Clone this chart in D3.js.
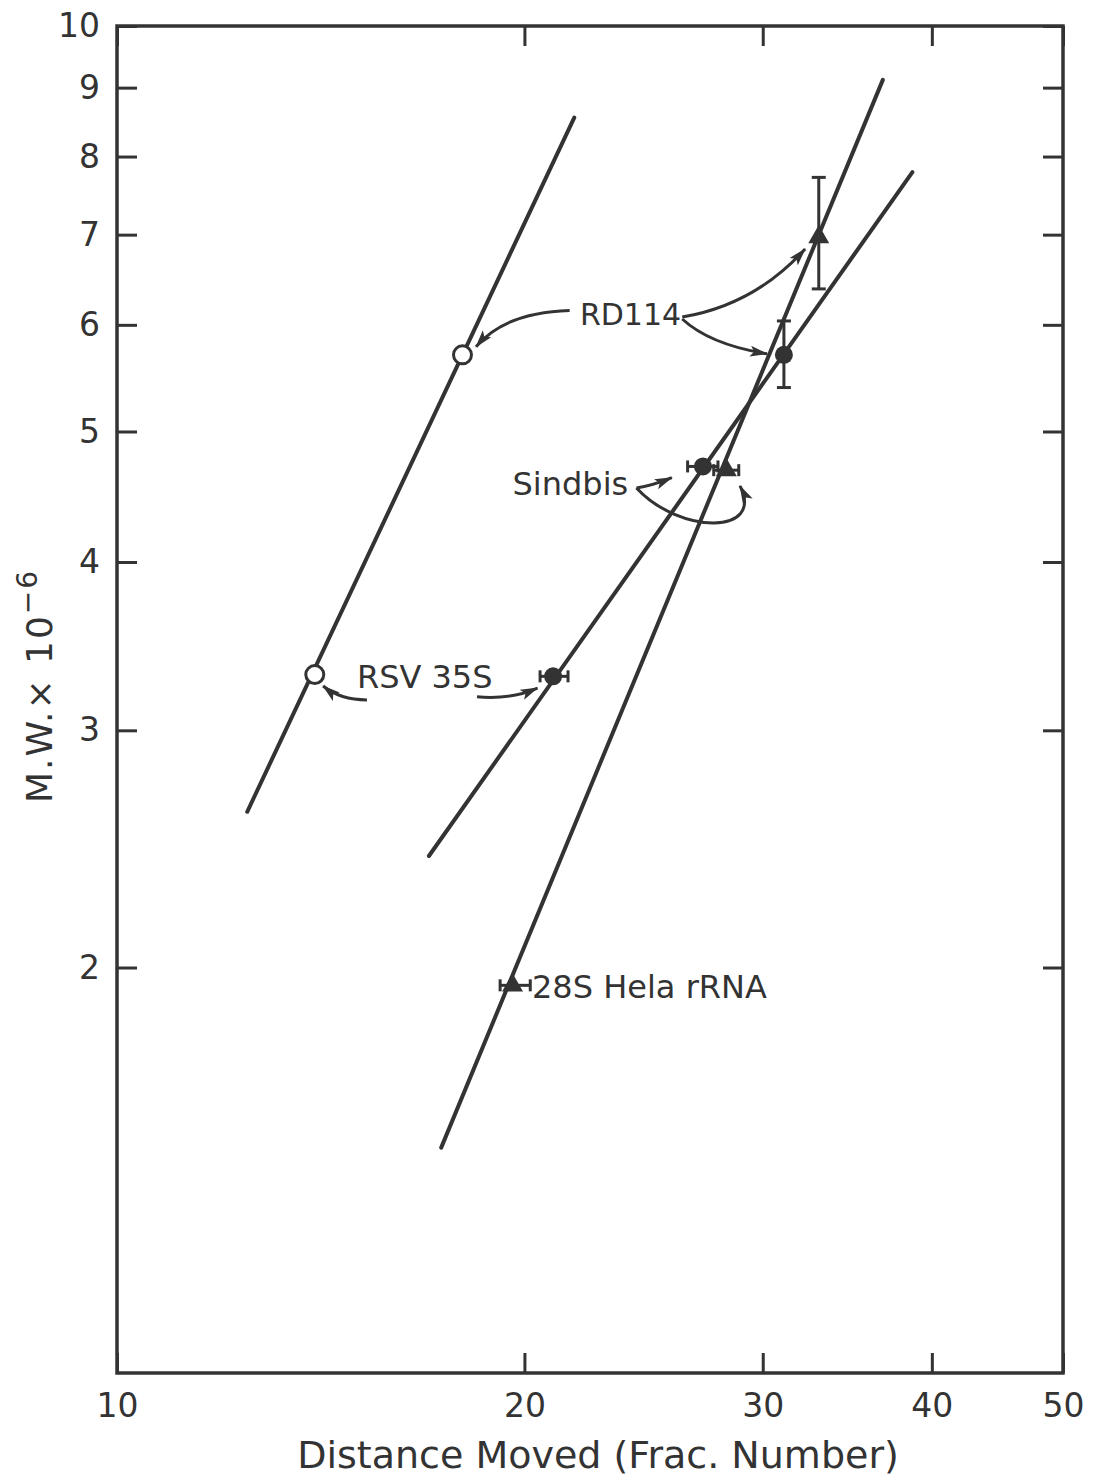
<!DOCTYPE html>
<html>
<head>
<meta charset="utf-8">
<script src="https://cdn.jsdelivr.net/npm/d3@7"></script>
<style>
  body { margin: 0; background: #fff; }
  text { font-family: "DejaVu Sans", sans-serif; fill: #333; }
</style>
</head>
<body>
<div id="chart"></div>
<script>
// tick values
const xTicks = [10, 20, 30, 40, 50];
const yTicks = [2, 3, 4, 5, 6, 7, 8, 9, 10];

// fitted lines: [start, end] as (fraction number, M.W. x 10^-6)
const lineOpen = [[12.48, 2.61], [21.77, 8.55]];
const lineCircle = [[17.0, 2.42], [38.7, 7.79]];
const lineTriangle = [[17.36, 1.47], [36.8, 9.12]];

// measured points
const openPoints = [
    { name: 'RSV 35S', x: 14.0, y: 3.30 },
    { name: 'RD114', x: 18.0, y: 5.70 }
];
const circlePoints = [
    { name: 'RSV 35S', x: 21.0, y: 3.29, x0: 20.54, x1: 21.54 },
    { name: 'Sindbis', x: 27.1, y: 4.71, x0: 26.4, x1: 27.8 },
    { name: 'RD114', x: 31.1, y: 5.70, y0: 5.39, y1: 6.04 }
];
const trianglePoints = [
    { name: '28S Hela rRNA', x: 19.6, y: 1.94, x0: 19.19, x1: 20.2 },
    { name: 'Sindbis', x: 28.2, y: 4.68, x0: 27.6, x1: 28.8 },
    { name: 'RD114', x: 33.0, y: 6.97, y0: 6.38, y1: 7.72 }
];

// labels (left end of baseline) and their pointer arrows
const labels = [
    { text: 'RD114', x: 21.98, y: 6.0, size: 30 },
    { text: 'RSV 35S', x: 15.04, y: 3.225, size: 32 },
    { text: 'Sindbis', x: 19.6, y: 4.485, size: 32 },
    { text: '28S Hela rRNA', x: 20.26, y: 1.90, size: 32 }
];
const arrows = [
    [[21.6, 6.15], [19.35, 6.13], [18.42, 5.78]],
    [[26.16, 6.08], [29.6, 6.21], [32.24, 6.83]],
    [[26.16, 6.06], [27.43, 5.80], [30.22, 5.71]],
    [[15.30, 3.16], [14.62, 3.16], [14.2, 3.236]],
    [[18.45, 3.177], [19.52, 3.16], [20.45, 3.225]],
    [[24.2, 4.54], [24.85, 4.556], [25.7, 4.62]],
    [[24.2, 4.54], [26.06, 4.19], [30.12, 4.19], [28.86, 4.556]]
];

const totalWidth = 1099;
const totalHeight = 1482;
const leftMargin = 117;
const topMargin = 26;
const plotWidth = 1063 - leftMargin;
const plotHeight = 1373 - topMargin;
const ink = '#333';

const svg = d3.select('#chart')
    .append('svg')
    .attr('width', totalWidth)
    .attr('height', totalHeight);

svg.append('defs').append('marker')
    .attr('id', 'head')
    .attr('markerUnits', 'userSpaceOnUse')
    .attr('markerWidth', 18)
    .attr('markerHeight', 12)
    .attr('refX', 17)
    .attr('refY', 6)
    .attr('orient', 'auto')
    .append('path')
    .attr('d', 'M0,0.5 L18,6 L0,11.5 L4,6 Z')
    .attr('fill', ink);

const g = svg.append('g')
    .attr('transform', `translate(${leftMargin},${topMargin})`);

const xScale = d3.scaleLog().domain([10, 50]).range([0, plotWidth]);
const yScale = d3.scaleLog().domain([1, 10]).range([plotHeight, 0]);

// axes with inward ticks on all four sides
function styleAxis(sel) {
    sel.select('.domain').remove();
    sel.selectAll('.tick line').attr('stroke', ink).attr('stroke-width', 3);
    sel.selectAll('.tick text').style('font-size', '33px').attr('fill', '#333');
}

g.append('g')
    .call(d3.axisLeft(yScale).tickValues(yTicks).tickSize(-20).tickPadding(17).tickFormat(d => d))
    .call(styleAxis);
g.append('g')
    .attr('transform', `translate(${plotWidth},0)`)
    .call(d3.axisRight(yScale).tickValues(yTicks).tickSize(-20).tickFormat(''))
    .call(styleAxis);
g.append('g')
    .attr('transform', `translate(0,${plotHeight})`)
    .call(d3.axisBottom(xScale).tickValues(xTicks).tickSize(-20).tickPadding(21).tickFormat(d => d))
    .call(styleAxis);
g.append('g')
    .call(d3.axisTop(xScale).tickValues(xTicks).tickSize(-20).tickFormat(''))
    .call(styleAxis);

g.append('rect')
    .attr('width', plotWidth)
    .attr('height', plotHeight)
    .attr('fill', 'none')
    .attr('stroke', ink)
    .attr('stroke-width', 3.5);

// fitted lines
const line = d3.line().x(d => xScale(d[0])).y(d => yScale(d[1]));
[lineOpen, lineCircle, lineTriangle].forEach(l => {
    g.append('path')
        .attr('d', line(l))
        .attr('fill', 'none')
        .attr('stroke', ink)
        .attr('stroke-width', 4)
        .attr('stroke-linecap', 'round');
});

// error bars
const withErr = circlePoints.concat(trianglePoints);
withErr.forEach(d => {
    const cx = xScale(d.x), cy = yScale(d.y);
    const eb = g.append('g').attr('stroke', ink).attr('stroke-width', 3);
    if (d.x0 !== undefined) {
        const a = xScale(d.x0), b = xScale(d.x1);
        eb.append('line').attr('x1', a).attr('x2', b).attr('y1', cy).attr('y2', cy);
        eb.append('line').attr('x1', a).attr('x2', a).attr('y1', cy - 6).attr('y2', cy + 6);
        eb.append('line').attr('x1', b).attr('x2', b).attr('y1', cy - 6).attr('y2', cy + 6);
    }
    if (d.y0 !== undefined) {
        const a = yScale(d.y0), b = yScale(d.y1);
        eb.append('line').attr('x1', cx).attr('x2', cx).attr('y1', a).attr('y2', b);
        eb.append('line').attr('x1', cx - 7).attr('x2', cx + 7).attr('y1', a).attr('y2', a);
        eb.append('line').attr('x1', cx - 7).attr('x2', cx + 7).attr('y1', b).attr('y2', b);
    }
});

// markers
g.selectAll('.open')
    .data(openPoints)
    .enter()
    .append('circle')
    .attr('cx', d => xScale(d.x))
    .attr('cy', d => yScale(d.y))
    .attr('r', 9)
    .attr('fill', '#fff')
    .attr('stroke', ink)
    .attr('stroke-width', 3);

g.selectAll('.filled')
    .data(circlePoints)
    .enter()
    .append('circle')
    .attr('cx', d => xScale(d.x))
    .attr('cy', d => yScale(d.y))
    .attr('r', 9)
    .attr('fill', ink);

g.selectAll('.tri')
    .data(trianglePoints)
    .enter()
    .append('path')
    .attr('d', d3.symbol().type(d3.symbolTriangle).size(190))
    .attr('transform', d => `translate(${xScale(d.x)},${yScale(d.y)})`)
    .attr('fill', ink);

// labels and arrows
g.selectAll('.lbl')
    .data(labels)
    .enter()
    .append('text')
    .attr('x', d => xScale(d.x))
    .attr('y', d => yScale(d.y))
    .style('font-size', d => d.size + 'px')
    .text(d => d.text);

arrows.forEach(p => {
    const s = p.map(d => [xScale(d[0]), yScale(d[1])]);
    let d = `M${s[0]}`;
    if (s.length === 3) d += `Q${s[1]} ${s[2]}`;
    else d += `C${s[1]} ${s[2]} ${s[3]}`;
    g.append('path')
        .attr('d', d)
        .attr('fill', 'none')
        .attr('stroke', ink)
        .attr('stroke-width', 3)
        .attr('marker-end', 'url(#head)');
});

// axis titles
svg.append('text')
    .attr('x', 598)
    .attr('y', 1468)
    .style('text-anchor', 'middle')
    .style('font-size', '38px')
    .text('Distance Moved (Frac. Number)');

const yTitle = svg.append('text')
    .attr('transform', 'translate(52,803) rotate(-90)')
    .style('text-anchor', 'start')
    .style('font-size', '36px')
    .style('letter-spacing', '2px');
yTitle.append('tspan').text('M.W.× 10');
yTitle.append('tspan').attr('dy', -15).style('font-size', '28px').text('−6');
</script>
</body>
</html>
